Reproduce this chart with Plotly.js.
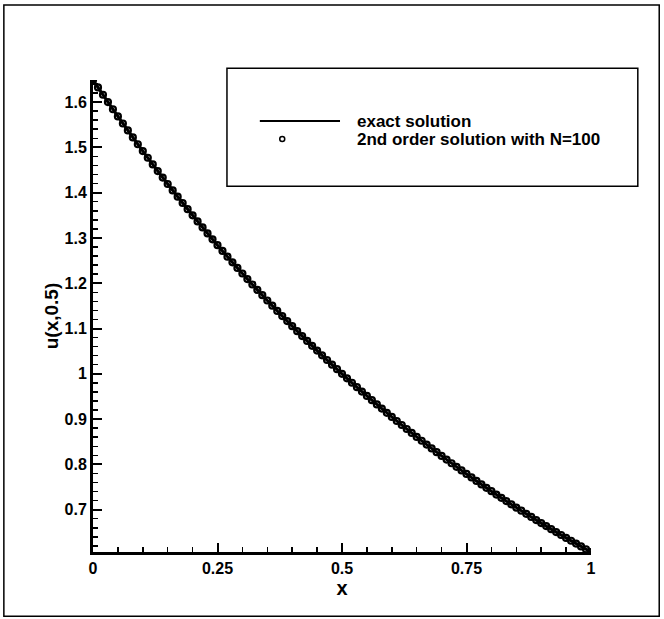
<!DOCTYPE html>
<html>
<head>
<meta charset="utf-8">
<script src="https://cdn.plot.ly/plotly-3.0.1.min.js"></script>
<style>
  html, body { margin: 0; padding: 0; background: #fff; }
  #chart { width: 664px; height: 619px; }
</style>
</head>
<body>
<div id="chart"></div>
<script>
// x positions of the exact-solution line (read at 0.05 spacing)
const xExact = [0, 0.05, 0.1, 0.15, 0.2, 0.25, 0.3, 0.35, 0.4, 0.45, 0.5,
                0.55, 0.6, 0.65, 0.7, 0.75, 0.8, 0.85, 0.9, 0.95, 1];
const uExact = [1.6487, 1.5683, 1.4918, 1.4191, 1.3499, 1.2840, 1.2214, 1.1618, 1.1052, 1.0513, 1.0000,
                0.9512, 0.9048, 0.8607, 0.8187, 0.7788, 0.7408, 0.7047, 0.6703, 0.6376, 0.6065];

// numerical solution points, N = 100
const xNum = [0,0.01,0.02,0.03,0.04,0.05,0.06,0.07,0.08,0.09,
  0.1,0.11,0.12,0.13,0.14,0.15,0.16,0.17,0.18,0.19,
  0.2,0.21,0.22,0.23,0.24,0.25,0.26,0.27,0.28,0.29,
  0.3,0.31,0.32,0.33,0.34,0.35,0.36,0.37,0.38,0.39,
  0.4,0.41,0.42,0.43,0.44,0.45,0.46,0.47,0.48,0.49,
  0.5,0.51,0.52,0.53,0.54,0.55,0.56,0.57,0.58,0.59,
  0.6,0.61,0.62,0.63,0.64,0.65,0.66,0.67,0.68,0.69,
  0.7,0.71,0.72,0.73,0.74,0.75,0.76,0.77,0.78,0.79,
  0.8,0.81,0.82,0.83,0.84,0.85,0.86,0.87,0.88,0.89,
  0.9,0.91,0.92,0.93,0.94,0.95,0.96,0.97,0.98,0.99,1];
const uNum = [1.6487,1.6323,1.6161,1.6000,1.5841,1.5683,1.5527,1.5373,1.5220,1.5068,
  1.4918,1.4770,1.4623,1.4477,1.4333,1.4191,1.4049,1.3910,1.3771,1.3634,
  1.3499,1.3364,1.3231,1.3100,1.2969,1.2840,1.2712,1.2586,1.2461,1.2337,
  1.2214,1.2092,1.1972,1.1853,1.1735,1.1618,1.1503,1.1388,1.1275,1.1163,
  1.1052,1.0942,1.0833,1.0725,1.0618,1.0513,1.0408,1.0305,1.0202,1.0101,
  1.0000,0.9900,0.9802,0.9704,0.9608,0.9512,0.9418,0.9324,0.9231,0.9139,
  0.9048,0.8958,0.8869,0.8781,0.8694,0.8607,0.8521,0.8437,0.8353,0.8270,
  0.8187,0.8106,0.8025,0.7945,0.7866,0.7788,0.7711,0.7634,0.7558,0.7483,
  0.7408,0.7334,0.7261,0.7189,0.7118,0.7047,0.6977,0.6907,0.6839,0.6771,
  0.6703,0.6637,0.6570,0.6505,0.6440,0.6376,0.6313,0.6250,0.6188,0.6126,0.6065];

const xTickVals = [0, 0.25, 0.5, 0.75, 1];
const xTickText = ["0", "0.25", "0.5", "0.75", "1"];
const yTickVals = [0.7, 0.8, 0.9, 1.0, 1.1, 1.2, 1.3, 1.4, 1.5, 1.6];
const yTickText = ["0.7", "0.8", "0.9", "1", "1.1", "1.2", "1.3", "1.4", "1.5", "1.6"];

const seriesNames = ["exact solution", "2nd order solution with N=100"];

const FONT = "Liberation Sans, Arial, sans-serif";

const traces = [
  {
    x: xExact, y: uExact, type: "scatter", mode: "lines",
    name: seriesNames[0], line: { color: "#000", width: 3, shape: "spline" },
    showlegend: false, hoverinfo: "skip"
  },
  {
    x: xNum, y: uNum, type: "scatter", mode: "markers",
    name: seriesNames[1],
    marker: { symbol: "circle-open", size: 6, color: "#000", line: { color: "#000", width: 2.2 } },
    showlegend: false
  }
];

const layout = {
  width: 664, height: 619,
  margin: { l: 93, r: 73, t: 80, b: 67 },
  paper_bgcolor: "#fff", plot_bgcolor: "#fff",
  font: { family: FONT, color: "#000" },
  showlegend: false,
  xaxis: {
    range: [0, 1], tickvals: xTickVals, ticktext: xTickText,
    showgrid: false, zeroline: false, showline: true, linecolor: "#000", linewidth: 3,
    ticks: "inside", ticklen: 9, tickwidth: 2, tickcolor: "#000",
    minor: { dtick: 0.05, tick0: 0, ticks: "inside", ticklen: 5, tickwidth: 1.5, tickcolor: "#000", showgrid: false },
    tickfont: { family: FONT, size: 16, weight: "bold", color: "#000" },
    title: { text: "x", font: { family: FONT, size: 20, weight: "bold", color: "#000" }, standoff: 2 },
    automargin: false
  },
  yaxis: {
    range: [0.6065, 1.6487], tickvals: yTickVals, ticktext: yTickText,
    showgrid: false, zeroline: false, showline: true, linecolor: "#000", linewidth: 3,
    ticks: "inside", ticklen: 9, tickwidth: 2, tickcolor: "#000",
    minor: { dtick: 0.02, tick0: 0.6, ticks: "inside", ticklen: 5, tickwidth: 1.5, tickcolor: "#000", showgrid: false },
    tickfont: { family: FONT, size: 16, weight: "bold", color: "#000" },
    title: { text: "u(x,0.5)", font: { family: FONT, size: 19, weight: "bold", color: "#000" }, standoff: 1 },
    automargin: false
  },
  shapes: [
    // outer frame
    { type: "rect", xref: "paper", yref: "paper", x0: -0.179, x1: 1.137, y0: -0.136, y1: 1.159,
      line: { color: "#000", width: 1.5 }, fillcolor: "rgba(0,0,0,0)", layer: "below" },
    // legend box
    { type: "rect", xref: "paper", yref: "paper", x0: 0.269, x1: 1.094, y0: 0.775, y1: 1.025,
      line: { color: "#000", width: 1.5 }, fillcolor: "#fff", layer: "above" },
    // legend line sample
    { type: "line", xref: "paper", yref: "paper", x0: 0.335, x1: 0.496, y0: 0.913, y1: 0.913,
      line: { color: "#000", width: 2 }, layer: "above" },
    // legend marker sample
    { type: "circle", xref: "paper", yref: "paper", xsizemode: "pixel", ysizemode: "pixel",
      xanchor: 0.380, yanchor: 0.875, x0: -2.5, x1: 2.5, y0: -2.5, y1: 2.5,
      line: { color: "#000", width: 1.5 }, fillcolor: "#fff", layer: "above" }
  ],
  annotations: [
    { xref: "paper", yref: "paper", x: 0.526, y: 0.913, xanchor: "left", yanchor: "middle",
      text: seriesNames[0], showarrow: false,
      font: { family: FONT, size: 17, weight: "bold", color: "#000" } },
    { xref: "paper", yref: "paper", x: 0.526, y: 0.875, xanchor: "left", yanchor: "middle",
      text: seriesNames[1], showarrow: false,
      font: { family: FONT, size: 17, weight: "bold", color: "#000" } }
  ]
};

Plotly.newPlot("chart", traces, layout, { staticPlot: true, displayModeBar: false });
</script>
</body>
</html>
